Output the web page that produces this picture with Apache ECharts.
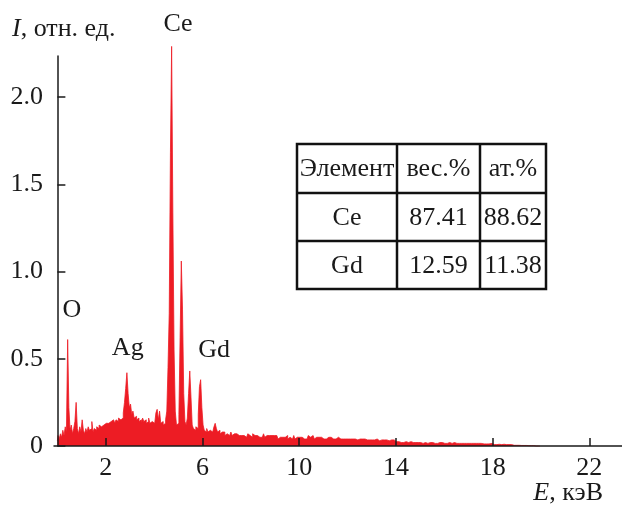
<!DOCTYPE html>
<html>
<head>
<meta charset="utf-8">
<script src="https://cdn.jsdelivr.net/npm/echarts@6/dist/echarts.min.js"></script>
<style>
  html, body { margin: 0; padding: 0; background: #fff; }
  #chart { width: 622px; height: 505px; }
</style>
</head>
<body>
<div id="chart"></div>
<script>
// EDX spectrum: channel grid (keV)
const channelStart = 0.0;
const channelStep = 0.05;

// Intensity per channel, one row per keV (20 channels each)
const intensity = [
  0.03,0.06,0.04,0.07,0.05,0.09,0.06,0.11,0.08,0.61,0.22,0.09,0.12,0.07,0.10,0.14,0.25,0.10,0.07,0.11,
  0.08,0.15,0.09,0.07,0.10,0.08,0.11,0.09,0.10,0.14,0.08,0.10,0.09,0.11,0.10,0.12,0.11,0.10,0.12,0.11,
  0.13,0.12,0.13,0.12,0.14,0.13,0.15,0.14,0.13,0.15,0.14,0.16,0.15,0.14,0.16,0.19,0.25,0.33,0.42,0.30,
  0.22,0.24,0.18,0.20,0.16,0.17,0.15,0.16,0.14,0.15,0.13,0.16,0.14,0.15,0.13,0.14,0.16,0.13,0.14,0.15,
  0.13,0.14,0.19,0.21,0.15,0.20,0.13,0.14,0.12,0.13,0.15,0.20,0.45,0.76,1.68,2.29,1.34,0.55,0.20,0.12,
  0.13,0.18,0.62,1.06,0.78,0.30,0.14,0.12,0.16,0.30,0.43,0.28,0.12,0.10,0.09,0.11,0.10,0.18,0.34,0.38,
  0.22,0.12,0.09,0.08,0.10,0.08,0.09,0.10,0.08,0.09,0.11,0.13,0.10,0.08,0.09,0.07,0.08,0.07,0.08,0.06,
  0.07,0.08,0.06,0.07,0.08,0.06,0.07,0.06,0.07,0.08,0.06,0.07,0.06,0.07,0.06,0.07,0.05,0.06,0.07,0.06,
  0.06,0.05,0.07,0.06,0.05,0.06,0.07,0.05,0.06,0.05,0.06,0.07,0.05,0.06,0.05,0.06,0.05,0.06,0.05,0.06,
  0.05,0.06,0.05,0.04,0.05,0.06,0.05,0.04,0.05,0.05,0.06,0.04,0.05,0.05,0.04,0.05,0.06,0.04,0.05,0.04,
  0.05,0.04,0.05,0.06,0.04,0.05,0.04,0.05,0.06,0.05,0.04,0.06,0.05,0.04,0.05,0.04,0.05,0.04,0.05,0.04,
  0.04,0.05,0.04,0.04,0.05,0.04,0.05,0.04,0.04,0.05,0.04,0.04,0.05,0.04,0.04,0.05,0.04,0.04,0.04,0.05,
  0.04,0.035,0.04,0.045,0.04,0.035,0.04,0.04,0.035,0.04,0.04,0.035,0.04,0.035,0.04,0.04,0.035,0.04,0.035,0.04,
  0.035,0.04,0.035,0.035,0.04,0.035,0.03,0.035,0.035,0.04,0.035,0.03,0.035,0.035,0.03,0.035,0.035,0.03,0.035,0.03,
  0.025,0.02,0.025,0.02,0.02,0.025,0.02,0.02,0.025,0.02,0.02,0.02,0.025,0.02,0.02,0.02,0.02,0.025,0.02,0.02,
  0.02,0.02,0.015,0.02,0.02,0.02,0.015,0.02,0.02,0.015,0.02,0.02,0.015,0.02,0.015,0.02,0.02,0.015,0.02,0.015,
  0.015,0.02,0.015,0.015,0.02,0.015,0.015,0.015,0.02,0.015,0.015,0.015,0.015,0.02,0.015,0.015,0.015,0.015,0.015,0.015,
  0.015,0.015,0.012,0.015,0.015,0.012,0.015,0.012,0.015,0.015,0.012,0.015,0.012,0.012,0.015,0.012,0.015,0.012,0.012,0.015,
  0.01,0.008,0.01,0.008,0.008,0.01,0.008,0.008,0.008,0.01,0.008,0.008,0.01,0.008,0.005,0.008,0.005,0.005,0.004,0.004,
  0.004,0.003,0.004,0.003,0.003,0.005,0.003,0.002,0.003,0.002,0.002,0.002,0.002,0.002,0.002,0.002,0,0,0,0
];

// Axis ticks
const xTicks = [2, 6, 10, 14, 18, 22];
const yTicks = [0, 0.5, 1.0, 1.5, 2.0];

// Peak labels: [element, energy keV, intensity level of the label]
const peakNames = ['O', 'Ag', 'Ce', 'Gd'];
const peakLabelEnergy = [0.60, 2.91, 4.99, 6.48];
const peakLabelLevel = [0.78, 0.56, 2.42, 0.55];

// Composition table
const tableHeader = ['Элемент', 'вес.%', 'ат.%'];
const tableElements = ['Ce', 'Gd'];
const tableWeight = ['87.41', '12.59'];
const tableAtomic = ['88.62', '11.38'];

const SERIF = '"Liberation Serif", "Times New Roman", serif';
const FS = 26;
const RED = '#ED1C24';
const INK = '#1a1a1a';

const spectrum = intensity.map((v, i) => [+(channelStart + i * channelStep).toFixed(3), v]);

const chart = echarts.init(document.getElementById('chart'), null, { renderer: 'canvas' });

// Table geometry
const colX = [297, 397, 480, 546];
const rowY = [144, 193, 241, 289];
const tableGraphics = [];
const cellText = (text, c, r) => ({
  type: 'text',
  x: (colX[c] + colX[c + 1]) / 2,
  y: (rowY[r] + rowY[r + 1]) / 2 + 1,
  style: { text, font: FS + 'px ' + SERIF, fill: INK, align: 'center', verticalAlign: 'middle' },
  z: 10
});
tableGraphics.push({
  type: 'rect',
  shape: { x: colX[0], y: rowY[0], width: colX[3] - colX[0], height: rowY[3] - rowY[0] },
  style: { fill: '#fff', stroke: '#111', lineWidth: 2.5 },
  z: 9
});
[colX[1], colX[2]].forEach(x => tableGraphics.push({
  type: 'line', shape: { x1: x, y1: rowY[0], x2: x, y2: rowY[3] },
  style: { stroke: '#111', lineWidth: 2.5 }, z: 9
}));
[rowY[1], rowY[2]].forEach(y => tableGraphics.push({
  type: 'line', shape: { x1: colX[0], y1: y, x2: colX[3], y2: y },
  style: { stroke: '#111', lineWidth: 2.5 }, z: 9
}));
tableHeader.forEach((t, c) => tableGraphics.push(cellText(t, c, 0)));
tableElements.forEach((t, r) => {
  tableGraphics.push(cellText(t, 0, r + 1));
  tableGraphics.push(cellText(tableWeight[r], 1, r + 1));
  tableGraphics.push(cellText(tableAtomic[r], 2, r + 1));
});

const italicRich = { i: { fontStyle: 'italic', fontFamily: SERIF, fontSize: FS, fill: INK } };

const option = {
  animation: false,
  backgroundColor: '#fff',
  grid: { left: 54, right: 0, top: 56, bottom: 59, containLabel: false },
  xAxis: {
    type: 'value',
    min: -0.14,
    max: 23.35,
    z: 5,
    splitLine: { show: false },
    axisLine: { show: true, onZero: false, lineStyle: { color: INK, width: 1.5 } },
    axisTick: { show: true, inside: true, length: 8, customValues: xTicks, lineStyle: { color: INK, width: 1.5 } },
    axisLabel: { customValues: xTicks, margin: 9, color: INK, fontFamily: SERIF, fontSize: FS }
  },
  yAxis: {
    type: 'value',
    min: 0,
    max: 2.235,
    z: 5,
    splitLine: { show: false },
    axisLine: { show: true, lineStyle: { color: INK, width: 1.5 } },
    axisTick: { show: true, inside: true, length: 8, customValues: yTicks, lineStyle: { color: INK, width: 1.5 } },
    axisLabel: {
      customValues: yTicks, margin: 11, color: INK, fontFamily: SERIF, fontSize: FS,
      formatter: v => (v === 0 ? '0' : v.toFixed(1))
    }
  },
  series: [{
    type: 'line',
    data: spectrum,
    step: 'middle',
    showSymbol: false,
    clip: false,
    sampling: null,
    z: 2,
    lineStyle: { color: RED, width: 0.8 },
    areaStyle: { color: RED, opacity: 1 }
  }],
  graphic: [
    {
      type: 'text', left: 12, top: 16, z: 10,
      style: { text: '{i|I}, отн. ед.', font: FS + 'px ' + SERIF, fill: INK, rich: italicRich }
    },
    {
      type: 'text', right: 19, top: 480, z: 10,
      style: { text: '{i|E}, кэВ', font: FS + 'px ' + SERIF, fill: INK, rich: italicRich }
    },
    ...tableGraphics
  ]
};

chart.setOption(option);

// Element labels placed at their data positions above the peaks
const peakGraphics = peakNames.map((name, k) => {
  const [px, py] = chart.convertToPixel({ gridIndex: 0 }, [peakLabelEnergy[k], peakLabelLevel[k]]);
  return {
    type: 'text', x: px, y: py, z: 10,
    style: { text: name, font: FS + 'px ' + SERIF, fill: INK, align: 'center', verticalAlign: 'middle' }
  };
});
chart.setOption({ graphic: option.graphic.concat(peakGraphics) });
</script>
</body>
</html>
